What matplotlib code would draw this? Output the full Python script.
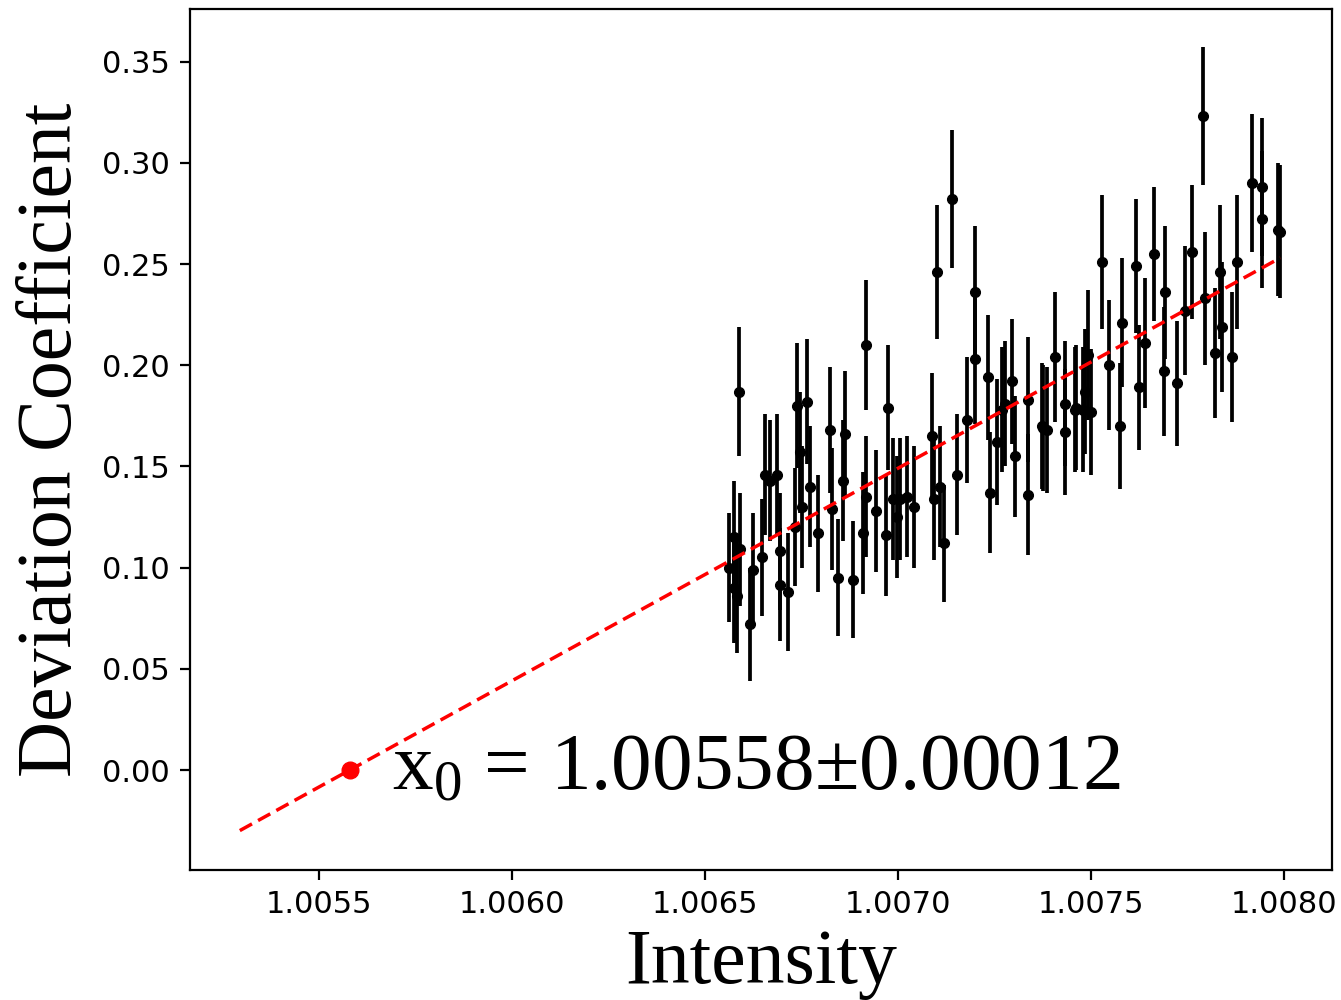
import numpy as np
import matplotlib
matplotlib.use("Agg")
import matplotlib.pyplot as plt

plt.rcParams["mathtext.fontset"] = "custom"
plt.rcParams["mathtext.rm"] = "Liberation Serif"
plt.rcParams["mathtext.it"] = "Liberation Serif"

# measured points (intensity, deviation coefficient, error)
intensity = [
    1.006561, 1.006574, 1.006574, 1.006582, 1.006589, 1.006591, 1.006617, 1.006625,
    1.006647, 1.006655, 1.006668, 1.006686, 1.006694, 1.006694, 1.006716, 1.006733,
    1.006738, 1.006746, 1.006750, 1.006763, 1.006772, 1.006793, 1.006823, 1.006828,
    1.006845, 1.006858, 1.006862, 1.006883, 1.006909, 1.006918, 1.006918, 1.006944,
    1.006970, 1.006974, 1.006987, 1.006996, 1.007004, 1.007023, 1.007041, 1.007088,
    1.007092, 1.007101, 1.007109, 1.007118, 1.007140, 1.007153, 1.007178, 1.007200,
    1.007200, 1.007234, 1.007238, 1.007256, 1.007269, 1.007277, 1.007295, 1.007303,
    1.007337, 1.007337, 1.007372, 1.007376, 1.007385, 1.007406, 1.007432, 1.007432,
    1.007458, 1.007462, 1.007478, 1.007484, 1.007492, 1.007501, 1.007529, 1.007546,
    1.007576, 1.007580, 1.007615, 1.007623, 1.007640, 1.007662, 1.007688, 1.007692,
    1.007722, 1.007743, 1.007761, 1.007791, 1.007795, 1.007821, 1.007834, 1.007839,
    1.007865, 1.007878, 1.007916, 1.007942, 1.007942, 1.007985, 1.007989,
]
deviation = [
    0.100, 0.115, 0.090, 0.086, 0.187, 0.109, 0.072, 0.099,
    0.105, 0.146, 0.143, 0.146, 0.108, 0.0915, 0.088, 0.120,
    0.180, 0.157, 0.130, 0.182, 0.140, 0.117, 0.168, 0.129,
    0.095, 0.143, 0.166, 0.094, 0.117, 0.210, 0.135, 0.128,
    0.116, 0.179, 0.134, 0.125, 0.134, 0.135, 0.130, 0.165,
    0.134, 0.246, 0.140, 0.112, 0.282, 0.146, 0.173, 0.236,
    0.203, 0.194, 0.137, 0.162, 0.178, 0.181, 0.192, 0.155,
    0.183, 0.136, 0.170, 0.169, 0.168, 0.204, 0.181, 0.167,
    0.178, 0.179, 0.178, 0.187, 0.205, 0.177, 0.251, 0.200,
    0.170, 0.221, 0.249, 0.189, 0.211, 0.255, 0.197, 0.236,
    0.191, 0.227, 0.256, 0.323, 0.233, 0.206, 0.246, 0.219,
    0.204, 0.251, 0.290, 0.288, 0.272, 0.267, 0.266,
]
errors = [
    0.027, 0.028, 0.027, 0.028, 0.032, 0.028, 0.028, 0.028,
    0.029, 0.030, 0.030, 0.030, 0.029, 0.028, 0.029, 0.029,
    0.031, 0.030, 0.030, 0.031, 0.030, 0.029, 0.031, 0.030,
    0.029, 0.030, 0.031, 0.029, 0.030, 0.032, 0.030, 0.030,
    0.030, 0.031, 0.030, 0.030, 0.030, 0.030, 0.030, 0.031,
    0.030, 0.033, 0.030, 0.029, 0.034, 0.030, 0.031, 0.033,
    0.032, 0.031, 0.030, 0.031, 0.031, 0.031, 0.031, 0.030,
    0.031, 0.030, 0.031, 0.031, 0.031, 0.032, 0.031, 0.031,
    0.031, 0.031, 0.031, 0.031, 0.032, 0.031, 0.033, 0.032,
    0.031, 0.032, 0.033, 0.031, 0.032, 0.033, 0.032, 0.033,
    0.031, 0.032, 0.033, 0.034, 0.033, 0.032, 0.033, 0.032,
    0.032, 0.033, 0.034, 0.034, 0.034, 0.033, 0.033,
]

# linear fit: y = slope * (x - x0)
fit_slope = 105.0
fit_x0 = 1.00558
fit_x0_err = 0.00012
fit_range = [1.005295, 1.00799]

fig = plt.figure(figsize=(13.41, 10), dpi=100)
ax = fig.add_axes([0.1417, 0.13, 0.8516, 0.861])

ax.errorbar(intensity, deviation, yerr=errors, fmt="o", color="black",
            markersize=7, elinewidth=2.7, capsize=0, zorder=3)

xs = np.array(fit_range)
ax.plot(xs, fit_slope * (xs - fit_x0), "--", color="red", linewidth=2.5,
        dashes=(4, 2), zorder=4)
ax.plot([fit_x0], [0.0], "o", color="red", markersize=12, zorder=5)

ax.text(1.00569, 0.0, r"$\mathrm{x_0}$" + " = %.5f±%.5f" % (fit_x0, fit_x0_err),
        fontsize=58.5, family="Liberation Serif", va="center", ha="left")

ax.set_xlim(1.005166, 1.008124)
ax.set_ylim(-0.0494, 0.376)
ax.set_xticks([1.0055, 1.0060, 1.0065, 1.0070, 1.0075, 1.0080])
ax.set_xticklabels(["1.0055", "1.0060", "1.0065", "1.0070", "1.0075", "1.0080"])
ax.set_yticks([0.00, 0.05, 0.10, 0.15, 0.20, 0.25, 0.30, 0.35])
ax.set_yticklabels(["0.00", "0.05", "0.10", "0.15", "0.20", "0.25", "0.30", "0.35"])
ax.tick_params(labelsize=22, length=7.5, width=1.6, pad=7)
for s in ax.spines.values():
    s.set_linewidth(1.6)

ax.set_xlabel("Intensity", fontsize=56, family="Liberation Serif", labelpad=7)
ax.set_ylabel("Deviation Coefficient", fontsize=56, family="Liberation Serif", labelpad=10)

fig.savefig("out.png", dpi=100)
